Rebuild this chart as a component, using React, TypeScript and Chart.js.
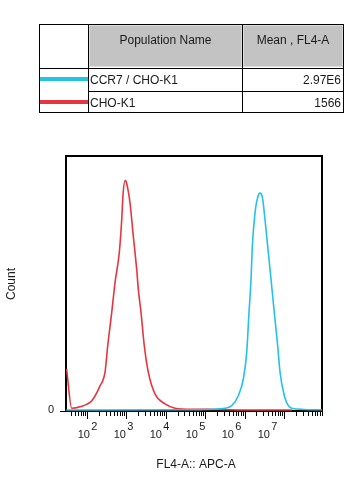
import React, { useEffect, useRef } from "react";
import { Chart, registerables } from "chart.js";

Chart.register(...registerables);

// x values are log10(FL4-A intensity), y values are relative counts
const blueX = [1.48, 4.8, 5.2, 5.505, 5.675, 5.842, 5.969, 6.055, 6.113, 6.164, 6.197, 6.265, 6.329, 6.392, 6.455, 6.501, 6.587, 6.671, 6.754, 6.84, 6.899, 7.008, 7.109, 7.195, 7.5, 7.96];
const blueY = [0, 0.1, 0.3, 0.7, 1.7, 5.6, 12.2, 22.7, 38.4, 51.4, 64.4, 77.6, 83.5, 85.4, 83.5, 77.6, 64.4, 51.4, 38.4, 25.2, 14.9, 5.6, 1.7, 0.7, 0.2, 0.1];

const redX = [1.49, 1.62, 1.83, 2.127, 2.337, 2.464, 2.532, 2.634, 2.718, 2.826, 2.887, 2.92, 2.971, 2.996, 3.047, 3.097, 3.181, 3.267, 3.308, 3.376, 3.46, 3.561, 3.731, 3.985, 4.238, 4.415, 5.3, 6.0, 7.2];
const redY = [16.1, 0.7, 1.3, 3.6, 9.5, 14.9, 25.2, 38.4, 50.2, 62, 74.9, 84.7, 90.3, 90, 86.7, 81.6, 68.4, 55.3, 47.5, 38.4, 25.2, 14.9, 6.3, 2.4, 0.7, 0.4, 0.2, 0, 0];

const populations = ["CCR7 / CHO-K1", "CHO-K1"];
const means = ["2.97E6", "1566"];
const popColors = ["#22c3e6", "#e8343f"];
const decades = [2, 3, 4, 5, 6, 7];
const X_MIN = 1.475;
const X_MAX = 7.963;
const Y_MIN = -0.4;
const Y_MAX = 100;

const FONT = "'Liberation Sans', Arial, sans-serif";

const axesPlugin = {
  id: "flowAxes",
  beforeDatasetsDraw(chart: any) {
    const ctx = chart.ctx;
    const { left, top, right, bottom } = chart.chartArea;
    const xs = chart.scales.x;
    ctx.save();
    ctx.strokeStyle = "#000";
    ctx.lineWidth = 2;
    ctx.strokeRect(left, top, right - left, bottom - top);
    ctx.lineWidth = 1;
    ctx.beginPath();
    for (let n = 1; n <= 7; n++) {
      for (let k = 1; k <= 9; k++) {
        const v = n + Math.log10(k);
        if (v < X_MIN + 0.02 || v > X_MAX) continue;
        const px = Math.round(xs.getPixelForValue(v)) + 0.5;
        const len = k === 1 ? 8 : 5;
        ctx.moveTo(px, bottom);
        ctx.lineTo(px, bottom + len);
      }
    }
    // zero tick on y axis
    ctx.moveTo(left - 6, bottom + 0.5);
    ctx.lineTo(left, bottom + 0.5);
    ctx.stroke();

    ctx.fillStyle = "#1a1a1a";
    ctx.font = `11px ${FONT}`;
    ctx.textBaseline = "alphabetic";
    ctx.textAlign = "right";
    ctx.fillText("0", left - 12, bottom + 2);

    // decade labels (FlowJo style, slightly compressed spacing)
    const p2 = xs.getPixelForValue(2);
    const dec = xs.getPixelForValue(3) - p2;
    ctx.textAlign = "left";
    decades.forEach((n, i) => {
      const lx = p2 - 9 + i * dec * 0.912;
      ctx.fillText("10", lx, bottom + 27);
      ctx.fillText(String(n), lx + 13.5, bottom + 18.5);
    });

    // axis titles
    ctx.font = `12px ${FONT}`;
    ctx.textAlign = "center";
    ctx.textBaseline = "middle";
    ctx.fillText("FL4-A:: APC-A", (left + right) / 2 + 2, 465);
    ctx.save();
    ctx.translate(12, 284);
    ctx.rotate(-Math.PI / 2);
    ctx.fillText("Count", 0, 0);
    ctx.restore();
    ctx.restore();
  },
};

const textStyle = {
  fontFamily: FONT,
  fontSize: 12,
  color: "#1a1a1a",
  whiteSpace: "nowrap" as const,
};

function Table() {
  const line = (l: number, t: number, w: number, h: number, key: string) => (
    <div key={key} style={{ position: "absolute", left: l, top: t, width: w, height: h, background: "#000" }} />
  );
  const gray = (l: number, w: number, text: string, key: string) => (
    <div
      key={key}
      style={{
        ...textStyle,
        position: "absolute",
        left: l,
        top: 25,
        width: w,
        height: 42,
        boxSizing: "border-box",
        background: "#c3c3c3",
        border: "1px solid #dcdcdc",
        display: "flex",
        alignItems: "center",
        justifyContent: "center",
        paddingBottom: 12,
      }}
    >
      {text}
    </div>
  );
  const rowsTop = [68, 91];
  return (
    <div style={{ position: "absolute", left: 0, top: 0, width: 356, height: 130, zIndex: 1 }}>
      {line(39, 24, 305, 1, "t")}
      {line(39, 112, 305, 1, "b")}
      {line(39, 24, 1, 89, "l")}
      {line(343, 24, 1, 89, "r")}
      {line(88, 24, 1, 89, "c1")}
      {line(242, 24, 1, 89, "c2")}
      {line(39, 68, 305, 1, "h1")}
      {line(88, 91, 256, 1, "h2")}
      {gray(89, 153, "Population Name", "g1")}
      {gray(243, 100, "Mean , FL4-A", "g2")}
      {populations.map((p, i) => (
        <React.Fragment key={p}>
          <div
            style={{
              position: "absolute",
              left: 40,
              top: rowsTop[i] + 9,
              width: 48,
              height: 4,
              background: popColors[i],
            }}
          />
          <div
            style={{
              ...textStyle,
              position: "absolute",
              left: 90,
              top: rowsTop[i] + 1,
              height: 22,
              lineHeight: "22px",
            }}
          >
            {p}
          </div>
          <div
            style={{
              ...textStyle,
              position: "absolute",
              left: 243,
              width: 98,
              top: rowsTop[i] + 1,
              height: 22,
              lineHeight: "22px",
              textAlign: "right",
            }}
          >
            {means[i]}
          </div>
        </React.Fragment>
      ))}
    </div>
  );
}

export default function App() {
  const ref = useRef<HTMLCanvasElement | null>(null);
  useEffect(() => {
    document.body.style.margin = "0";
    const canvas = ref.current;
    if (!canvas) return;
    const chart = new Chart(canvas, {
      type: "line",
      data: {
        datasets: [
          {
            label: populations[0],
            data: blueX.map((x, i) => ({ x, y: blueY[i] })),
            borderColor: popColors[0],
            borderWidth: 1.6,
            pointRadius: 0,
            fill: false,
            cubicInterpolationMode: "monotone",
          },
          {
            label: populations[1],
            data: redX.map((x, i) => ({ x, y: redY[i] })),
            borderColor: popColors[1],
            borderWidth: 1.6,
            pointRadius: 0,
            fill: false,
            cubicInterpolationMode: "monotone",
          },
        ],
      },
      options: {
        responsive: false,
        animation: false,
        devicePixelRatio: 1,
        layout: { padding: { left: 66, top: 156, right: 34, bottom: 73 } },
        plugins: { legend: { display: false }, tooltip: { enabled: false } },
        scales: {
          x: { type: "linear", min: X_MIN, max: X_MAX, display: false },
          y: { type: "linear", min: Y_MIN, max: Y_MAX, display: false },
        },
      },
      plugins: [axesPlugin],
    } as any);
    return () => chart.destroy();
  }, []);
  return (
    <div style={{ position: "relative", width: 356, height: 484, background: "#fff" }}>
      <canvas ref={ref} width={356} height={484} style={{ position: "absolute", left: 0, top: 0 }} />
      <Table />
    </div>
  );
}
